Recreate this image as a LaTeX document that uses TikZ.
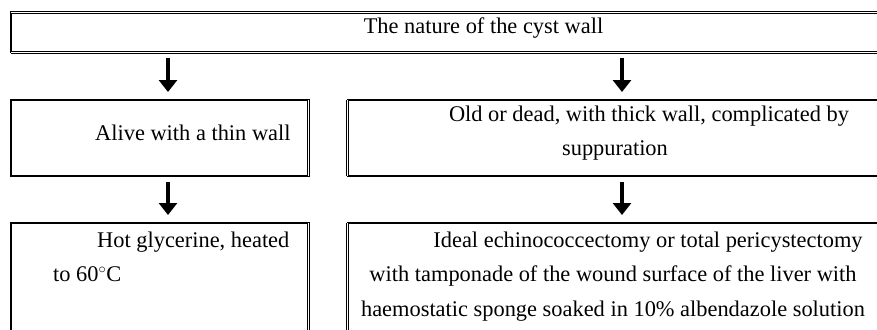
\documentclass[tikz,border=0pt]{standalone}
\usepackage{fontspec}
\setmainfont{Liberation Serif}
\usetikzlibrary{arrows.meta, positioning, calc}
\tikzset{
    frame/.style={rectangle, inner sep=0pt, outer sep=0pt},
    heavy/.style={line width=2pt, line cap=rect, black},
    twin/.style={double, double distance=1.2pt, line width=0.8pt, black},
    bigarrow/.style={-{Triangle[width=18pt, length=12pt]}, line width=4pt, black, shorten <=6pt, shorten >=8pt},
    txt/.style={inner sep=0pt, font=\fontsize{22.4}{34.5}\selectfont}
}

\begin{document}
\begin{tikzpicture}[x=1pt, y=-1pt]
    \useasboundingbox (0,0) rectangle (877,329);
    \clip (0,0) rectangle (877,329);
    % boxes
    \node [frame, minimum width=889pt, minimum height=40pt] (nature) at (455.5,32.5) {};
    \node [frame, minimum width=297.5pt, minimum height=76pt] (alive) at (159.75,138) {};
    \node [frame, minimum width=552.5pt, minimum height=76pt] (old) at (623.75,138) {};
    \node [frame, minimum width=297.5pt, minimum height=130pt] (hot) at (159.75,288) {};
    \node [frame, minimum width=552.5pt, minimum height=130pt] (ideal) at (623.75,288) {};
    % borders
    \draw [heavy] (nature.north west) -- (nature.south west);
    \draw [twin] (nature.north west) -- (nature.north east);
    \draw [twin] (nature.south west) -- (nature.south east);
    \draw [heavy] (alive.north east) -- (alive.north west) -- (alive.south west) -- (alive.south east);
    \draw [twin] (alive.north east) -- (alive.south east);
    \draw [heavy] (old.north west) -- (old.north east);
    \draw [heavy] (old.south west) -- (old.south east);
    \draw [twin] (old.north west) -- (old.south west);
    \draw [heavy] (hot.north east) -- (hot.north west) -- (hot.south west);
    \draw [twin] (hot.north east) -- (hot.south east);
    \draw [heavy] (ideal.north west) -- (ideal.north east);
    \draw [twin] (ideal.north west) -- (ideal.south west);
    % texts (base = baseline of the last line)
    \node [txt, anchor=base] (naturetext) at (483.5,33.5) {The nature of the cyst wall};
    \node [txt, anchor=base west] (alivetext) at (95,140) {Alive with a thin wall};
    \node [txt, align=center, anchor=base] (oldtext) at (615,155.5) {\hspace*{68pt}Old or dead, with thick wall, complicated by\\suppuration};
    \node [txt, align=left, anchor=base west] (hottext) at (53,281.5) {\hspace*{44pt}Hot glycerine, heated\\to 60$^{\circ}$C};
    \node [txt, align=center, anchor=base] (idealtext) at (613,316) {\hspace*{70pt}Ideal echinococcectomy or total pericystectomy\\with tamponade of the wound surface of the liver with\\haemostatic sponge soaked in 10\% albendazole solution};
    % arrows
    \coordinate (lane1) at (168,0);
    \coordinate (lane2) at (622,0);
    \draw [bigarrow] (nature.south -| lane1) -- (alive.north -| lane1);
    \draw [bigarrow] (nature.south -| lane2) -- (old.north -| lane2);
    \draw [bigarrow] (alive.south -| lane1) -- (hot.north -| lane1);
    \draw [bigarrow] (old.south -| lane2) -- (ideal.north -| lane2);
\end{tikzpicture}
\end{document}
